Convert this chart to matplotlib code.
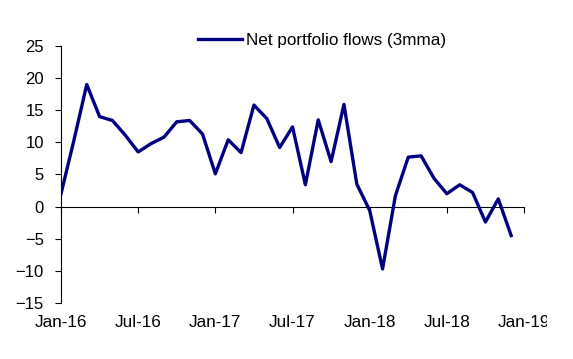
import numpy as np
import matplotlib
matplotlib.use('Agg')
import matplotlib.pyplot as plt
from matplotlib.transforms import Bbox, TransformedBbox

plt.rcParams['font.family'] = ['Liberation Sans', 'DejaVu Sans']

# 月度数据 Jan-16 .. Dec-18
months = ['Jan-16', 'Feb-16', 'Mar-16', 'Apr-16', 'May-16', 'Jun-16', 'Jul-16', 'Aug-16', 'Sep-16',
          'Oct-16', 'Nov-16', 'Dec-16', 'Jan-17', 'Feb-17', 'Mar-17', 'Apr-17', 'May-17', 'Jun-17',
          'Jul-17', 'Aug-17', 'Sep-17', 'Oct-17', 'Nov-17', 'Dec-17', 'Jan-18', 'Feb-18', 'Mar-18',
          'Apr-18', 'May-18', 'Jun-18', 'Jul-18', 'Aug-18', 'Sep-18', 'Oct-18', 'Nov-18', 'Dec-18']
flows = [2.0, 10.3, 19.0, 14.0, 13.4, 11.1, 8.5, 9.8, 10.8, 13.2, 13.4, 11.3,
         5.1, 10.4, 8.4, 15.8, 13.7, 9.2, 12.4, 3.4, 13.5, 7.0, 15.9, 3.5,
         -0.6, -9.7, 1.7, 7.7, 7.9, 4.4, 2.0, 3.4, 2.2, -2.4, 1.2, -4.5]
tick_labels = ['Jan-16', 'Jul-16', 'Jan-17', 'Jul-17', 'Jan-18', 'Jul-18', 'Jan-19']

x = np.arange(len(flows))
fig = plt.figure(figsize=(5.73, 3.59), dpi=100)
ax = fig.add_axes([0.1065, 0.156, 0.808, 0.716])

ax.plot(x, flows, color='#000080', lw=2.4, label='Net portfolio flows (3mma)')

ax.set_xlim(0, 36)
ax.set_ylim(-15, 25)
ax.set_yticks(np.arange(-15, 26, 5))
ax.tick_params(axis='y', direction='out', length=4.3, width=0.8, labelsize=12, pad=8)

# 底部标签，不画刻度线
ax.set_xticks(np.arange(0, 37, 6))
ax.set_xticklabels(tick_labels)
ax.tick_params(axis='x', length=0, labelsize=12.3, pad=8.5)
for s in ['top', 'right', 'bottom']:
    ax.spines[s].set_visible(False)
ax.spines['left'].set_linewidth(0.8)

# 原图最后一个标签被截断
last = ax.get_xticklabels()[-1]
last.set_clip_on(True)
last.set_clip_box(TransformedBbox(Bbox([[0, 0], [547 / 573, 1]]), fig.transFigure))

# 零线上的刻度
secax = ax.secondary_xaxis(15 / 40)
secax.set_xticks(np.arange(0, 37, 6))
secax.set_xticklabels([])
secax.tick_params(direction='out', length=4.3, width=0.8)
secax.spines['bottom'].set_linewidth(0.8)

ax.legend(loc='center', bbox_to_anchor=(0.562, 0.888), bbox_transform=fig.transFigure,
          frameon=False, fontsize=12.3, handlelength=2.6, handletextpad=0.25)

fig.savefig('out.png', dpi=100)
